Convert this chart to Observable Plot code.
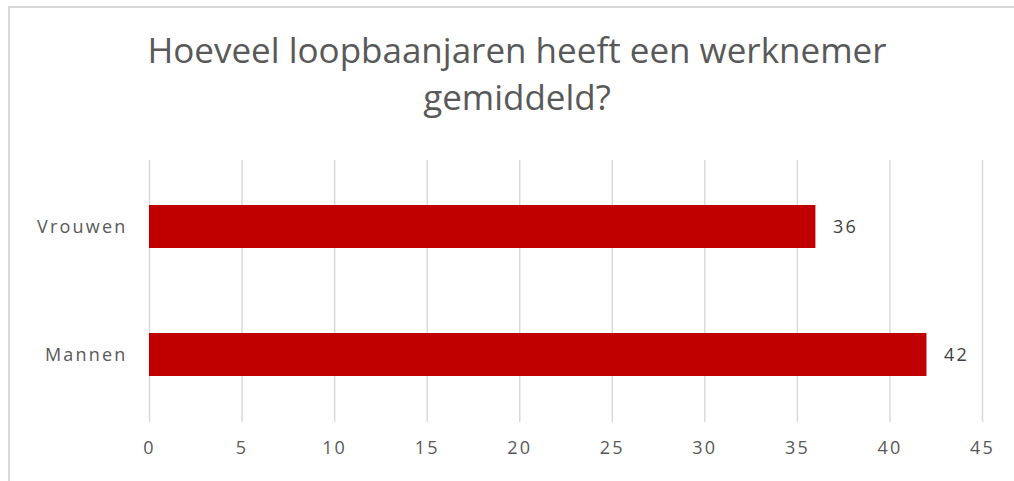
<!DOCTYPE html>
<html>
<head>
<meta charset="utf-8">
<script src="https://cdn.jsdelivr.net/npm/d3@7"></script>
<script src="https://cdn.jsdelivr.net/npm/@observablehq/plot@0.6"></script>
<style>
  html, body { margin: 0; padding: 0; background: #fff; width: 1014px; height: 481px; overflow: hidden; }
  #frame { position: absolute; left: 8px; top: 6px; width: 1100px; height: 600px; border: 2px solid #d9d9d9; box-sizing: border-box; }
  #title { position: absolute; left: 0; top: 26px; width: 1034px; text-align: center; font-family: "Open Sans", sans-serif; font-size: 35px; line-height: 47px; color: #595959; }
  #chart { position: absolute; left: 0; top: 140px; }
  #chart svg text { letter-spacing: 2.2px; }
</style>
</head>
<body>
<div id="frame"></div>
<div id="title">Hoeveel loopbaanjaren heeft een werknemer<br>gemiddeld?</div>
<div id="chart"></div>
<script>
const categories = ["Vrouwen", "Mannen"];
const values = [36, 42];
const ticks = [0, 5, 10, 15, 20, 25, 30, 35, 40, 45];

const data = categories.map((c, i) => ({category: c, value: values[i]}));

const plot = Plot.plot({
  width: 1014,
  height: 341,
  marginTop: 20,
  marginBottom: 59,
  marginLeft: 149,
  marginRight: 32,
  style: {fontFamily: "Open Sans, sans-serif", fontSize: "18px", color: "#595959", background: "transparent"},
  x: {domain: [0, 45], ticks: ticks, label: null},
  y: {domain: categories, paddingInner: 0.664, paddingOuter: 0.355, label: null},
  marks: [
    Plot.ruleX(ticks, {stroke: "#d9d9d9", strokeWidth: 1.5}),
    Plot.barX(data, {x: "value", y: "category", fill: "#c00000"}),
    Plot.text(data, {x: "value", y: "category", text: d => String(d.value), textAnchor: "start", dx: 17, fill: "#404040", fontSize: 18}),
    Plot.axisX({ticks: ticks, tickSize: 0, tickPadding: 19, fill: "#595959", fontSize: 18, label: null}),
    Plot.axisY({tickSize: 0, tickPadding: 22, fill: "#595959", fontSize: 18, label: null})
  ]
});
document.getElementById("chart").appendChild(plot);
</script>
</body>
</html>
